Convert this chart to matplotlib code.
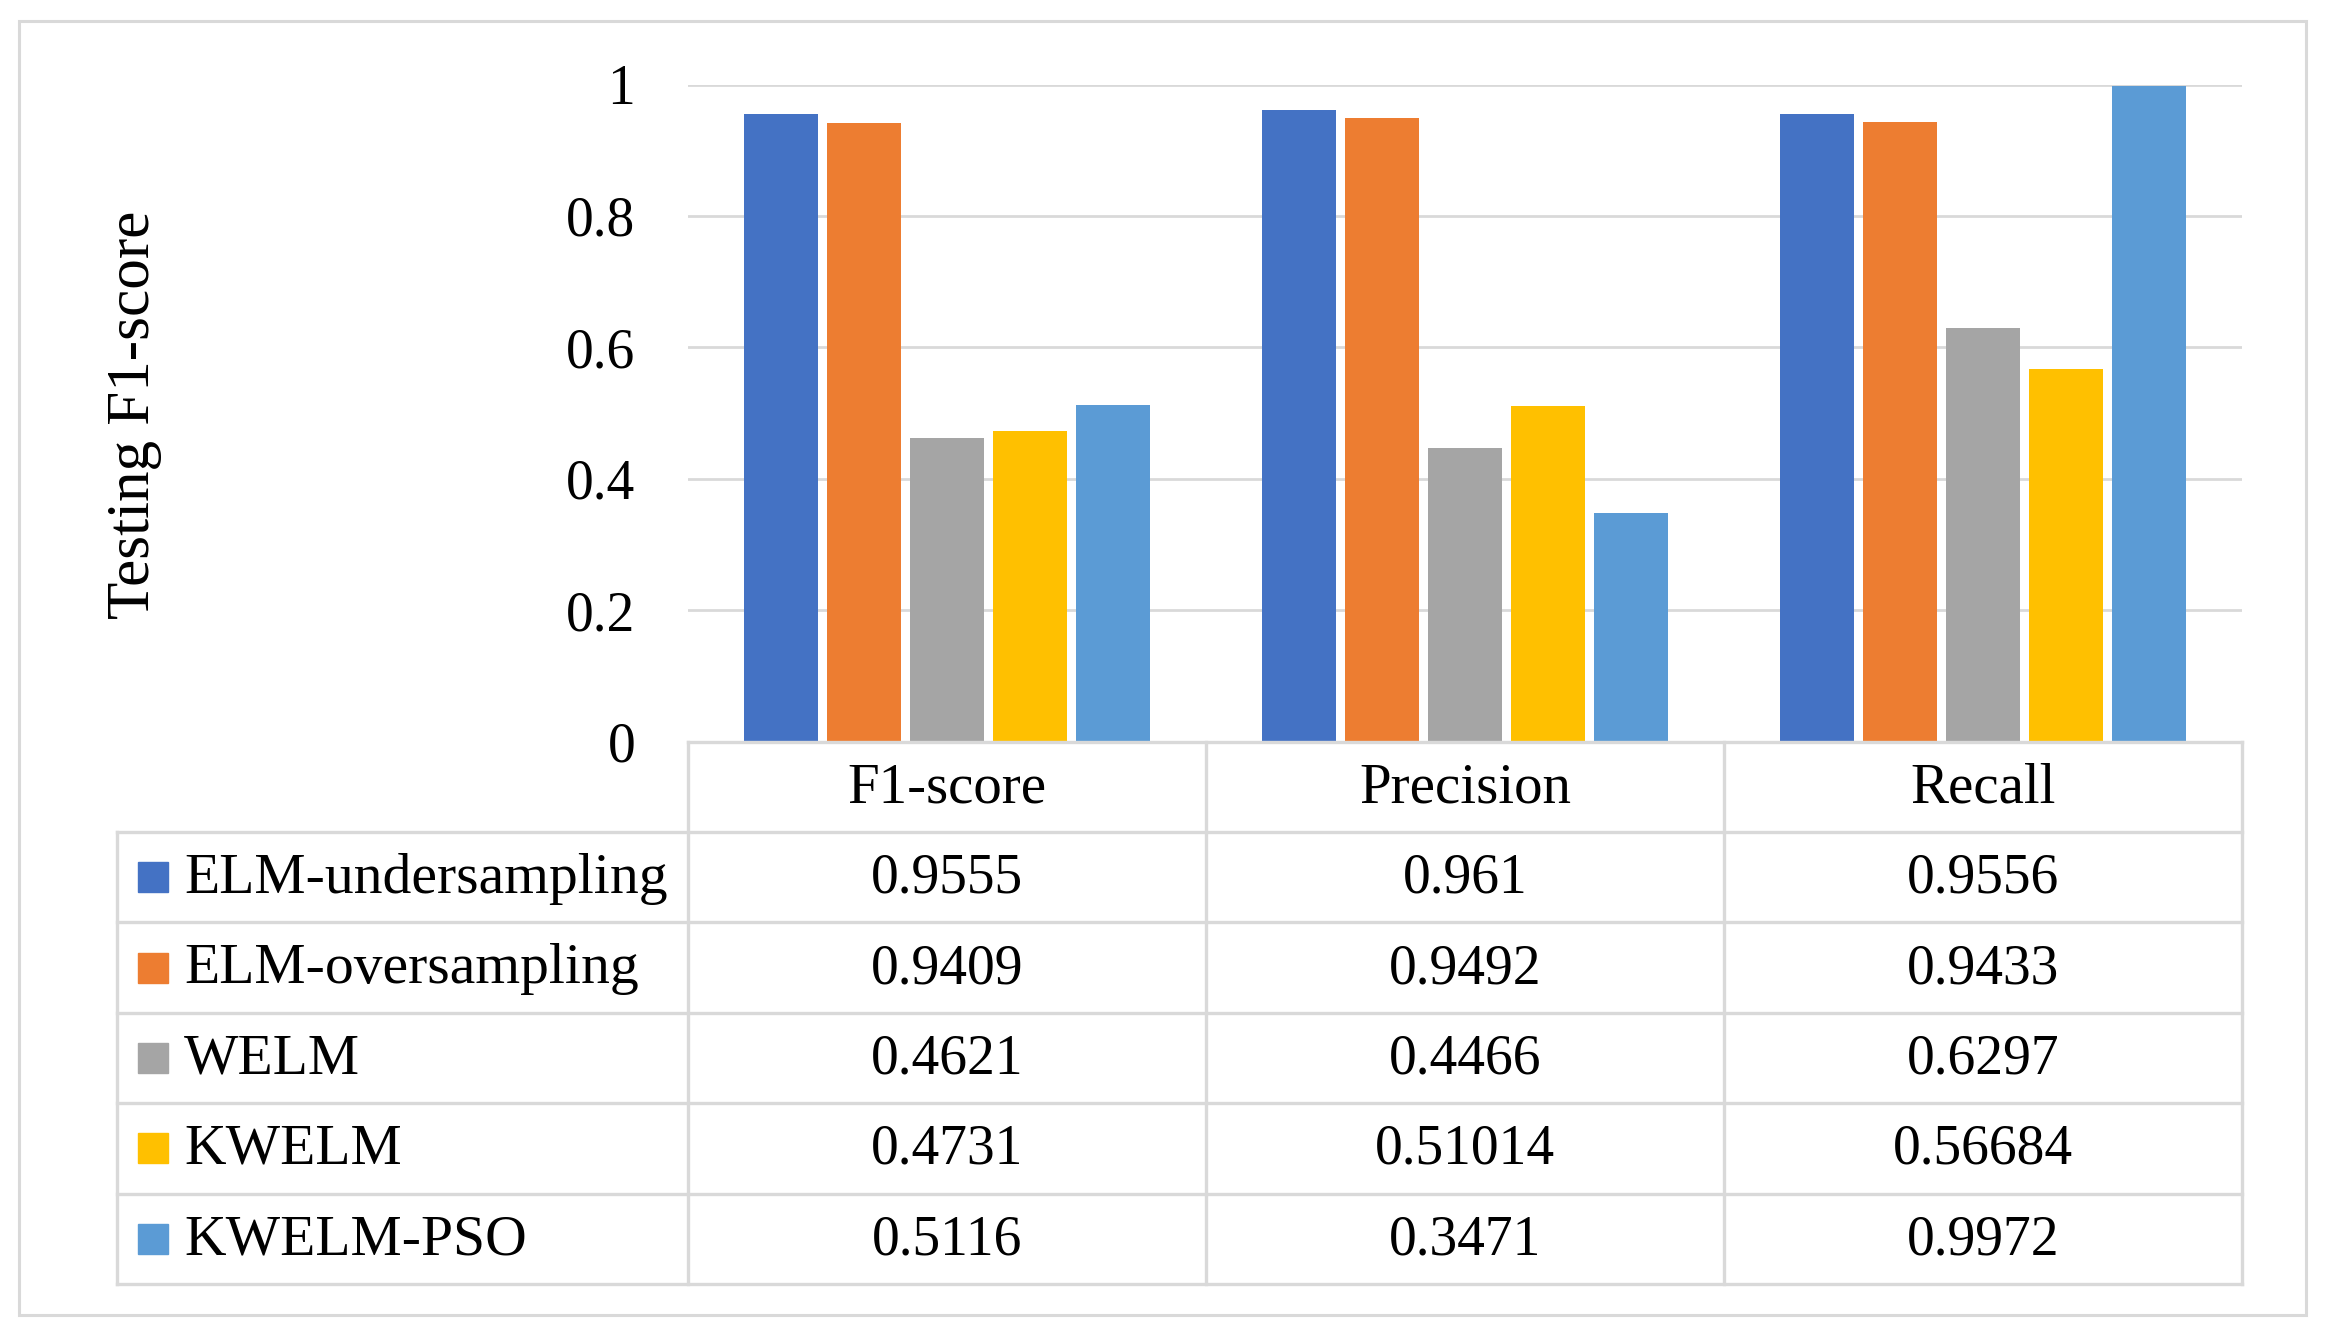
import matplotlib
matplotlib.use('Agg')
import matplotlib.pyplot as plt
from matplotlib.patches import Rectangle

plt.rcParams['font.family'] = ['Liberation Serif', 'DejaVu Serif']

metrics = ['F1-score', 'Precision', 'Recall']
models = ['ELM-undersampling', 'ELM-oversampling', 'WELM', 'KWELM', 'KWELM-PSO']
elm_under = [0.9555, 0.961, 0.9556]
elm_over = [0.9409, 0.9492, 0.9433]
welm = [0.4621, 0.4466, 0.6297]
kwelm = [0.4731, 0.51014, 0.56684]
kwelm_pso = [0.5116, 0.3471, 0.9972]
series = [elm_under, elm_over, welm, kwelm, kwelm_pso]
colors = ['#4472C4', '#ED7D31', '#A5A5A5', '#FFC000', '#5B9BD5']
yticks = [0, 0.2, 0.4, 0.6, 0.8, 1]

W, H = 2325, 1336
grid_c = '#d9d9d9'
fs = 40

fig = plt.figure(figsize=(W / 100, H / 100), dpi=100)

# plot area (pixel layout)
x0, x1, ytop, ybot = 688, 2242, 84.5, 741.5
ax = fig.add_axes([x0 / W, 1 - ybot / H, (x1 - x0) / W, (ybot - ytop) / H])

step, bw = 0.1605, 0.143
for i, (vals, c) in enumerate(zip(series, colors)):
    xs = [k + (i - 2) * step for k in range(len(metrics))]
    ax.bar(xs, vals, width=bw, color=c, zorder=3)

ax.set_xlim(-0.5, len(metrics) - 0.5)
ax.set_ylim(0, 1)
ax.set_yticks(yticks)
ax.set_yticklabels([f'{t:g}' for t in yticks], fontsize=fs)
ax.set_xticks([])
ax.tick_params(axis='y', length=0, pad=38)
ax.yaxis.grid(True, color=grid_c, lw=2.0, zorder=0)
for s in ax.spines.values():
    s.set_visible(False)

fig.text(134 / W, 1 - 415 / H, 'Testing F1-score', rotation=90,
         ha='center', va='center', fontsize=44)

# data table under the chart
unit = (x1 - x0) / len(metrics)
left = -0.5 - (x0 - 117) / unit
tax = fig.add_axes([117 / W, 1 - 1284 / H, (x1 - 117) / W, (1284 - ybot) / H])
nrows = len(models) + 1
tax.set_xlim(left, len(metrics) - 0.5)
tax.set_ylim(nrows, 0)
tax.axis('off')

lw = 2.4
tax.plot([-0.5, len(metrics) - 0.5], [0, 0], color=grid_c, lw=lw, clip_on=False)
for r in range(1, nrows + 1):
    tax.plot([left, len(metrics) - 0.5], [r, r], color=grid_c, lw=lw, clip_on=False)
tax.plot([left, left], [1, nrows], color=grid_c, lw=lw, clip_on=False)
for k in range(len(metrics) + 1):
    tax.plot([k - 0.5, k - 0.5], [0, nrows], color=grid_c, lw=lw, clip_on=False)

ty = 0.45
for k, m in enumerate(metrics):
    tax.text(k, ty, m, ha='center', va='center_baseline', fontsize=41)

sq_w, sq_h = 30 / unit, 30 / ((1284 - ybot) / nrows)
for r, (name, vals, c) in enumerate(zip(models, series, colors), start=1):
    tax.add_patch(Rectangle((left + 21 / unit, r + 0.5 - sq_h / 2), sq_w, sq_h,
                            color=c, clip_on=False))
    tax.text(left + 67 / unit, r + ty, name, ha='left', va='center_baseline', fontsize=41.5)
    for k, v in enumerate(vals):
        tax.text(k, r + ty, str(v), ha='center', va='center_baseline', fontsize=fs)

fig.add_artist(Rectangle((19 / W, 1 - 1315 / H), (2306 - 19) / W, (1315 - 21) / H,
                         transform=fig.transFigure, fill=False, ec=grid_c, lw=2.2))

fig.savefig('out.png', dpi=100, facecolor='white')
